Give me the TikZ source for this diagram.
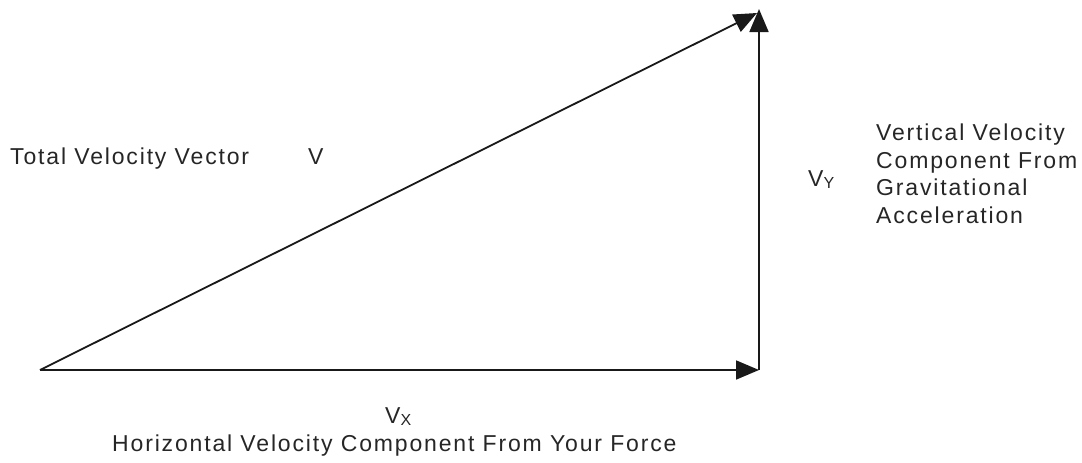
\documentclass[tikz,border=0pt]{standalone}
\usepackage{fontspec}
\setmainfont[LetterSpace=8]{Liberation Sans}
\usetikzlibrary{arrows.meta}
\newcommand\lowsub[1]{\raisebox{-0.12em}{\fontsize{16}{16}\selectfont #1}}
\begin{document}
\begin{tikzpicture}[x=1pt,y=-1pt,
  vec/.style={line width=1.8pt, draw=black!90, -{Triangle[length=23pt,width=19pt]}},
  lbl/.style={font=\fontsize{23}{27.7}\selectfont, inner sep=0pt, text=black!85}]
\useasboundingbox[fill=white] (0,0) rectangle (1082,463);
\coordinate (O) at (40,370);
\coordinate (C) at (759,370);
\coordinate (T1) at (759,9);
\coordinate (T2) at (757,13);
\draw[vec] (O) -- (C);
\draw[vec] (C) -- (T1);
\draw[vec] (O) -- (T2);
\node[lbl, anchor=base west] (total) at (10,164) {Total Velocity Vector};
\node[lbl, anchor=base west] (v) at (308,164) {V};
\node[lbl, anchor=base west] (vy) at (808,186) {V\lowsub{Y}};
\node[lbl, anchor=north west, align=left] (vert) at (876,123.5) {Vertical Velocity\\Component From\\Gravitational\\Acceleration};
\node[lbl, anchor=base west] (vx) at (385,423) {V\lowsub{X}};
\node[lbl, anchor=base west] (horiz) at (112,451) {Horizontal Velocity Component From Your Force};
\end{tikzpicture}
\end{document}
